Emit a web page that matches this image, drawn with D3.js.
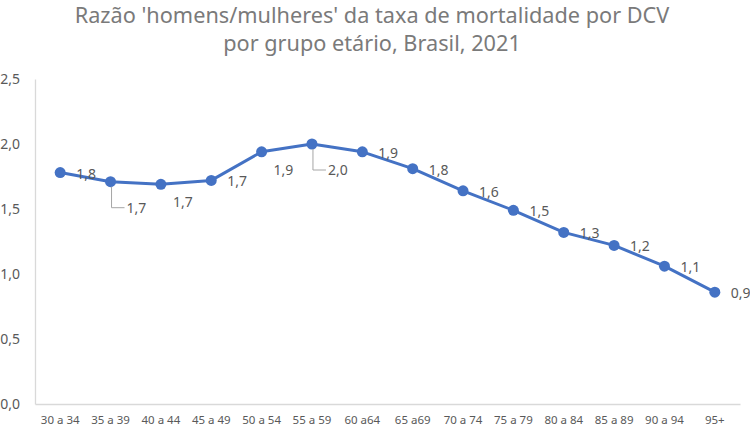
<!DOCTYPE html>
<html>
<head>
<meta charset="utf-8">
<script src="https://cdn.jsdelivr.net/npm/d3@7"></script>
<style>
  body { margin: 0; background: #fff; }
  svg { display: block; font-family: "Noto Sans", sans-serif; }
</style>
</head>
<body>
<svg id="chart" width="750" height="426"></svg>
<script>
// Data
const ageGroups = ['30 a 34', '35 a 39', '40 a 44', '45 a 49', '50 a 54', '55 a 59', '60 a64',
  '65 a69', '70 a 74', '75 a 79', '80 a 84', '85 a 89', '90 a 94', '95+'];
const ratio = [1.78, 1.71, 1.69, 1.72, 1.94, 2.0, 1.94, 1.81, 1.64, 1.49, 1.32, 1.22, 1.06, 0.86];
const yTicks = [0, 0.5, 1.0, 1.5, 2.0, 2.5];
const titleLines = ["Razão 'homens/mulheres' da taxa de mortalidade por DCV", 'por grupo etário, Brasil, 2021'];

// how Excel placed each data label
const labelPlacement = ['right', 'leader', 'below', 'right', 'below', 'leader', 'right',
  'right', 'right', 'right', 'right', 'right', 'right', 'right'];

const W = 750, H = 426;
const plot = { left: 35, right: 740, top: 79, bottom: 404 };
const COLORS = { line: '#4472C4', text: '#595959', title: '#7a7a7a', axis: '#d9d9d9', leader: '#a6a6a6' };

const svg = d3.select('#chart');
const fmt = v => d3.format('.1f')(v).replace('.', ',');

const x = d3.scaleBand().domain(ageGroups).range([plot.left, plot.right]);
const y = d3.scaleLinear().domain([0, 2.5]).range([plot.bottom, plot.top]);
const cx = d => x(d) + x.bandwidth() / 2;

// Title
const title = svg.append('g').attr('fill', COLORS.title).attr('text-anchor', 'middle');
titleLines.forEach((t, i) => {
  title.append('text')
    .attr('x', 372).attr('y', 23 + i * 28)
    .attr('font-size', 20)
    .text(t);
});
// scale title font so the first line spans like the original (~595px)
const firstLen = title.select('text').node().getComputedTextLength();
title.selectAll('text').attr('font-size', 20 * 595 / firstLen);

// Y axis
const yAxis = svg.append('g')
  .attr('transform', `translate(${plot.left},0)`)
  .call(d3.axisLeft(y).tickValues(yTicks).tickSize(0).tickPadding(15).tickFormat(fmt));
yAxis.select('.domain').attr('stroke', COLORS.axis).attr('stroke-width', 1.3);
yAxis.selectAll('text').attr('fill', COLORS.text).attr('font-size', 14)
  .attr('font-family', '"Noto Sans", sans-serif');

// X axis
const xAxis = svg.append('g')
  .attr('transform', `translate(0,${plot.bottom})`)
  .call(d3.axisBottom(x).tickSize(0).tickPadding(12));
xAxis.select('.domain').attr('stroke', COLORS.axis).attr('stroke-width', 1.3);
xAxis.selectAll('text').attr('fill', COLORS.text).attr('font-size', 11.5)
  .attr('font-family', '"Noto Sans", sans-serif');

// Line
const line = d3.line().x((d, i) => cx(ageGroups[i])).y(d => y(d));
svg.append('path')
  .datum(ratio)
  .attr('fill', 'none')
  .attr('stroke', COLORS.line)
  .attr('stroke-width', 3)
  .attr('stroke-linejoin', 'round')
  .attr('d', line);

svg.append('g').selectAll('circle')
  .data(ratio)
  .join('circle')
  .attr('cx', (d, i) => cx(ageGroups[i]))
  .attr('cy', d => y(d))
  .attr('r', 5.5)
  .attr('fill', COLORS.line);

// Data labels
const labels = svg.append('g').attr('fill', COLORS.text).attr('font-size', 14);
ratio.forEach((v, i) => {
  const px = cx(ageGroups[i]), py = y(v);
  const pos = labelPlacement[i];
  let lx = px + 16, ly = py + 1;
  if (pos === 'below') { lx = px + 12; ly = py + 18; }
  if (pos === 'leader') {
    lx = px + 16; ly = py + 26;
    svg.append('path')
      .attr('d', `M${px + 1},${py + 5}V${ly}H${lx - 2}`)
      .attr('fill', 'none')
      .attr('stroke', COLORS.leader)
      .attr('stroke-width', 1);
  }
  labels.append('text')
    .attr('x', lx).attr('y', ly)
    .attr('dy', '0.35em')
    .text(fmt(v));
});
</script>
</body>
</html>
